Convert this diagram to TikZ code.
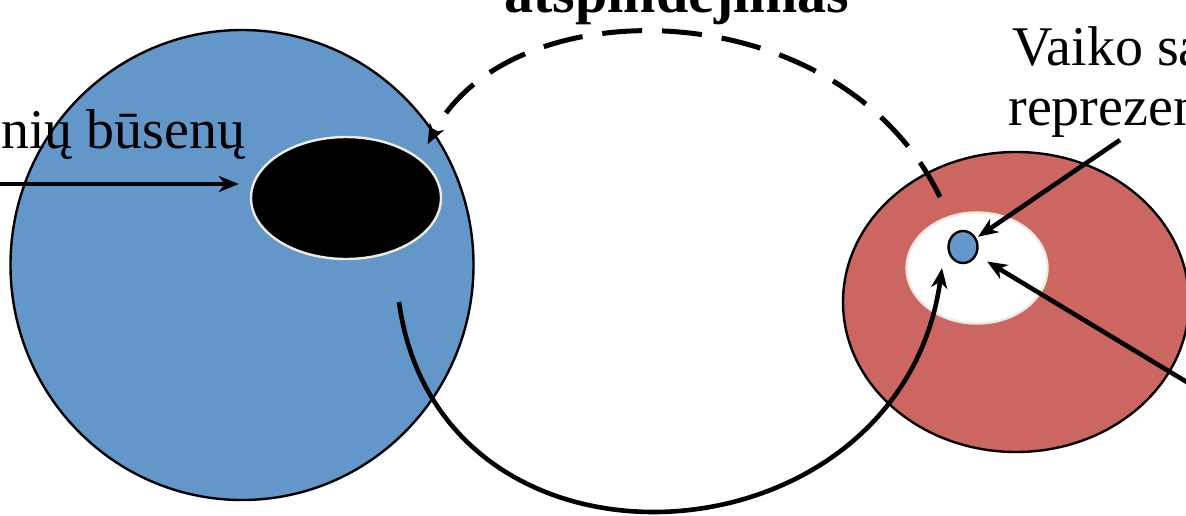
\documentclass[tikz,border=0pt]{standalone}
\usepackage{fontspec}
\setmainfont{Liberation Serif}
\usetikzlibrary{arrows.meta,shapes.geometric,calc}
\definecolor{mindblue}{RGB}{99,150,201}
\definecolor{mindred}{RGB}{204,102,96}
\definecolor{rimcream}{RGB}{238,236,222}
\begin{document}
\begin{tikzpicture}[x=0.5pt,y=-0.5pt,>={Stealth[length=10pt,width=8pt,inset=3pt]},
blob/.style={ellipse,draw=black,line width=1.2pt,inner sep=0pt},
hole/.style={ellipse,draw=rimcream,line width=1.2pt,inner sep=0pt},
arr/.style={->,line width=2.3pt},
dasharr/.style={->,line width=2.5pt,dash pattern=on 20pt off 10pt},
lbl/.style={font=\fontsize{28}{32}\selectfont,inner sep=0pt}]
\useasboundingbox (0,0) rectangle (1186,515);
\clip (0,0) rectangle (1186,515);
\node[blob,fill=mindblue,minimum width=231.5pt,minimum height=235pt] (mother) at (242,265) {};
\node[hole,fill=black,minimum width=95pt,minimum height=61pt] (mstate) at (346,198) {};
\node[blob,fill=mindred,minimum width=173pt,minimum height=150pt] (child) at (1016,302) {};
\node[hole,fill=white,minimum width=70.5pt,minimum height=55.5pt] (cself) at (977,268) {};
\node[blob,fill=mindblue,minimum width=14.5pt,minimum height=16pt] (crep) at (963,247) {};
\node[lbl,font=\fontsize{29}{33}\selectfont\bfseries,anchor=base] (reflect) at (677,12) {atspindėjimas};
\node[lbl,anchor=base east] (mlabel) at (246,148) {nių būsenų};
\node[lbl,anchor=base west] (clabel) at (1012,65) {Vaiko sa};
\node[lbl,anchor=base west] (rlabel) at (1008,125) {reprezen};
\coordinate (lin) at (-10,184);
\coordinate (dstart) at (940,197);
\coordinate (cstart) at (399,302);
\coordinate (ctip) at (942,268);
\coordinate (rtop) at (1120,140);
\coordinate (rlow) at (1200,390);
\draw[arr,shorten >=5.5pt] (lin) -- (lin -| mstate.west);
\draw[dasharr,shorten >=8pt] (dstart) .. controls (840,-10) and (510,-15) .. (mstate.28);
\draw[arr] (cstart) .. controls (440,600) and (900,570) .. (ctip);
\draw[arr,shorten >=1pt] (rtop) -- (crep);
\draw[arr,shorten >=6pt] (rlow) -- (crep);
\end{tikzpicture}
\end{document}
